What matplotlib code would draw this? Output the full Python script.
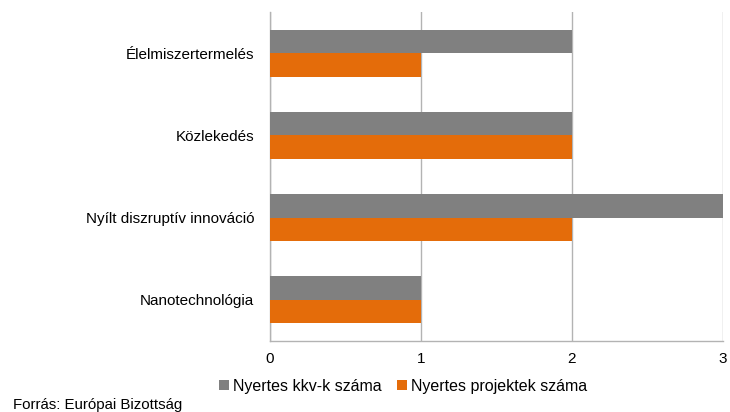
import numpy as np
import matplotlib.pyplot as plt

plt.rcParams['font.family'] = ['Liberation Sans', 'DejaVu Sans']

# data
categories = ['Élelmiszertermelés', 'Közlekedés', 'Nyílt diszruptív innováció', 'Nanotechnológia']
kkv = [2, 2, 3, 1]
projektek = [1, 2, 2, 1]
series_names = ['Nyertes kkv-k száma', 'Nyertes projektek száma']
xticks = [0, 1, 2, 3]

GRAY = '#808080'
ORANGE = '#E46C0A'
GRID = '#B3B3B3'

fig = plt.figure(figsize=(7.3, 4.12), dpi=100)
ax = fig.add_axes([270 / 730, 1 - 341 / 412, 453 / 730, 329 / 412])

y = np.arange(len(categories))
h = 0.286
ax.barh(y - h / 2, kkv, height=h, color=GRAY, label=series_names[0], zorder=3)
ax.barh(y + h / 2, projektek, height=h, color=ORANGE, label=series_names[1], zorder=3)

ax.set_ylim(len(categories) - 0.5, -0.5)
ax.set_xlim(0, 3)
ax.set_xticks(xticks)
ax.set_yticks(y)
ax.set_yticklabels(categories, fontsize=11)
ax.tick_params(axis='x', length=0, pad=8, labelsize=11)
ax.tick_params(axis='y', length=0, pad=11.5)
ax.grid(axis='x', color=GRID, linewidth=1, zorder=0)

for s in ['top', 'right']:
    ax.spines[s].set_visible(False)
for s in ['left', 'bottom']:
    ax.spines[s].set_color(GRID)
    ax.spines[s].set_linewidth(1)

fig.legend(loc='center', bbox_to_anchor=(403 / 730, 1 - 386 / 412), ncol=2,
           frameon=False, fontsize=11.5, handlelength=0.6, handleheight=0.6,
           handletextpad=0.25, columnspacing=1.0)

fig.text(13 / 730, 1 - 405 / 412, 'Forrás: Európai Bizottság', fontsize=10.8, va='center', ha='left')

fig.savefig('out.png', dpi=100)
